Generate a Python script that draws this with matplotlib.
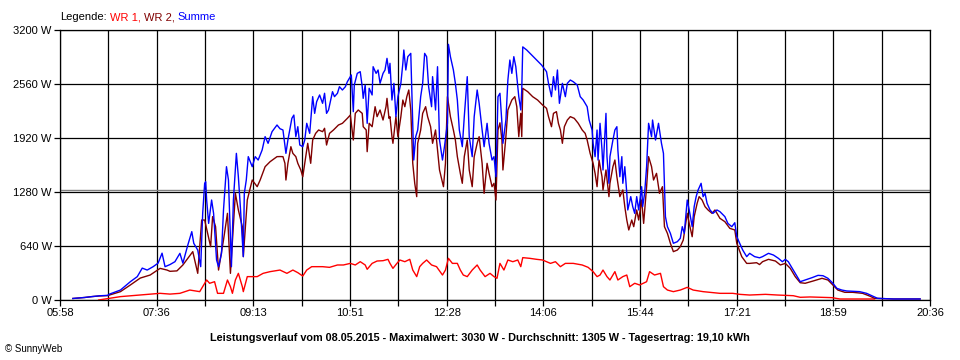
import matplotlib
matplotlib.use("Agg")
import matplotlib.pyplot as plt
import numpy as np

plt.rcParams['font.family'] = ['Liberation Sans', 'DejaVu Sans']

# time in minutes since midnight, power in W
summe_t = [371, 383, 390, 398, 406, 408, 419, 429, 436, 441, 446, 452, 457, 461, 464, 469, 474, 479, 482, 487,
           491, 493, 497, 500, 502, 504, 505, 506, 508, 511, 513, 516, 518, 521, 523, 526, 528, 531, 533, 536,
           538, 540, 543, 544, 546, 548, 552, 555, 558, 562, 565, 568, 572, 577, 580, 583, 586, 588, 592, 594,
           596, 598, 600, 603, 605, 607, 610, 613, 615, 617, 620, 623, 625, 627, 629, 633, 635, 638, 640, 643,
           646, 648, 650, 652, 654, 655, 658, 661, 663, 664, 666, 668, 670, 673, 674, 677, 679, 681, 684, 686,
           688, 690, 691, 693, 695, 697, 699, 702, 704, 705, 707, 709, 712, 714, 715, 717, 719, 722, 724, 726,
           728, 730, 733, 734, 737, 739, 741, 744, 746, 749, 750, 752, 755, 757, 759, 761, 764, 766, 769, 771,
           774, 776, 779, 781, 784, 786, 789, 791, 794, 796, 798, 800, 802, 804, 805, 808, 810, 812, 814, 816,
           818, 819, 821, 823, 824, 825, 829, 834, 839, 844, 849, 851, 854, 856, 858, 860, 862, 865, 868, 870,
           873, 876, 880, 883, 886, 890, 892, 895, 896, 898, 900, 901, 903, 905, 906, 909, 910, 912, 913, 916,
           918, 920, 921, 923, 925, 926, 928, 930, 931, 934, 936, 938, 940, 942, 945, 946, 948, 950, 952, 955,
           956, 959, 962, 965, 967, 969, 971, 974, 977, 981, 984, 986, 988, 991, 993, 996, 998, 1000, 1002, 1005,
           1007, 1009, 1011, 1014, 1017, 1021, 1024, 1029, 1032, 1036, 1039, 1041, 1044, 1047, 1051, 1054, 1059, 1064, 1067, 1073,
           1078, 1083, 1087, 1090, 1093, 1097, 1102, 1105, 1110, 1117, 1123, 1128, 1133, 1138, 1142, 1147, 1152, 1158, 1165, 1172,
           1178, 1183, 1199, 1226]
summe_w = [18, 30, 40, 50, 55, 70, 118, 217, 277, 378, 355, 395, 437, 555, 395, 420, 454, 553, 437, 652,
           810, 672, 592, 395, 1027, 1383, 1402, 1185, 908, 1185, 1027, 474, 395, 553, 1067, 1580, 1422, 395, 1185, 1738,
           1461, 1106, 514, 1264, 1422, 1699, 1580, 1699, 1659, 1778, 1936, 1857, 1995, 2074, 2030, 2015, 1738, 1896, 2153, 2192,
           1936, 2054, 1837, 1817, 1896, 2094, 1975, 2410, 2212, 2350, 2430, 2331, 2450, 2212, 2252, 2469, 2410, 2450, 2528, 2489,
           2528, 2587, 2627, 2667, 2232, 2548, 2686, 2706, 2528, 2390, 2548, 2094, 2509, 2430, 2765, 2686, 2726, 2568, 2686, 2726,
           2864, 2686, 2805, 2370, 2568, 2173, 2410, 2568, 2805, 2963, 2726, 2884, 2923, 2054, 1659, 1936, 2015, 2410, 2568, 2923,
           2884, 2528, 2291, 2647, 2252, 2765, 1896, 1659, 1817, 2094, 3030, 2884, 2726, 2568, 2370, 2015, 1817, 2173, 2647, 1936,
           1699, 2173, 2489, 2331, 2015, 1817, 2094, 1857, 1659, 1699, 1461, 2410, 2450, 2094, 1857, 2133, 2607, 2844, 2686, 2884,
           2765, 2647, 2410, 2252, 2489, 3000, 2963, 2904, 2844, 2785, 2706, 2568, 2410, 2647, 2489, 2726, 2331, 2568, 2410, 2568,
           2607, 2587, 2548, 2410, 2370, 2291, 2133, 2015, 1857, 1699, 2015, 1659, 2094, 1778, 1541, 2212, 1699, 1383, 1699, 1896,
           2015, 2054, 1778, 1461, 1699, 1383, 1580, 1264, 1067, 1225, 1106, 1027, 1225, 1067, 1343, 1106, 1264, 1580, 2094, 1936,
           2133, 1896, 2094, 1857, 1738, 988, 869, 790, 672, 691, 731, 869, 790, 1185, 1067, 869, 1106, 1225, 1304, 1383,
           1225, 1264, 1146, 1067, 1027, 1067, 1047, 988, 908, 869, 916, 750, 672, 592, 514, 553, 514, 500, 514, 553,
           533, 494, 454, 482, 454, 375, 277, 217, 237, 265, 292, 288, 257, 198, 138, 118, 107, 103, 99, 79,
           47, 20, 12, 12]

wr2_t = [371, 383, 390, 398, 406, 419, 429, 439, 449, 454, 459, 466, 469, 476, 482, 487, 492, 497, 501, 504,
         507, 510, 512, 515, 518, 523, 527, 530, 535, 538, 542, 543, 547, 552, 557, 560, 565, 570, 577, 580,
         583, 585, 586, 588, 591, 593, 596, 598, 601, 603, 606, 608, 611, 613, 616, 619, 623, 625, 627, 630,
         634, 639, 643, 648, 651, 654, 656, 659, 663, 664, 667, 668, 670, 673, 676, 678, 681, 684, 687, 688,
         690, 691, 693, 694, 697, 699, 702, 704, 706, 708, 710, 712, 714, 716, 718, 719, 722, 724, 727, 729,
         732, 734, 737, 739, 741, 745, 747, 749, 752, 755, 757, 759, 762, 764, 766, 769, 771, 774, 776, 779,
         781, 784, 786, 789, 791, 794, 796, 798, 800, 802, 804, 805, 808, 810, 814, 817, 819, 821, 823, 824,
         825, 830, 835, 840, 845, 849, 851, 854, 856, 859, 861, 863, 865, 867, 870, 873, 877, 881, 885, 888,
         890, 893, 896, 898, 900, 902, 905, 906, 909, 912, 913, 916, 918, 920, 923, 926, 928, 930, 932, 935,
         937, 940, 942, 945, 947, 950, 952, 955, 957, 960, 963, 966, 968, 971, 974, 977, 981, 984, 987, 991,
         993, 996, 998, 1001, 1003, 1006, 1009, 1012, 1016, 1019, 1024, 1029, 1034, 1039, 1041, 1046, 1051, 1054, 1061, 1064,
         1067, 1073, 1080, 1085, 1090, 1095, 1100, 1105, 1110, 1118, 1127, 1133, 1138, 1143, 1150, 1158, 1168, 1175, 1180, 1199,
         1226]
wr2_w = [18, 30, 40, 48, 52, 99, 178, 260, 296, 336, 375, 355, 340, 345, 415, 494, 573, 316, 948, 948,
         790, 632, 988, 869, 355, 711, 1027, 316, 1264, 1067, 869, 514, 1185, 1422, 1343, 1422, 1580, 1639, 1699, 1700,
         1699, 1620, 1422, 1620, 1817, 1738, 1699, 1620, 1541, 1461, 1699, 1857, 1620, 1896, 1975, 2015, 1995, 2035, 1837, 1975,
         2015, 2074, 2094, 2153, 2192, 1896, 2212, 2252, 2212, 2054, 2015, 1758, 2094, 2054, 2291, 2173, 2252, 2133, 2291, 2390,
         2153, 2173, 1936, 1857, 2173, 1936, 2173, 2370, 2291, 2410, 2489, 2252, 1620, 1383, 1225, 1857, 2015, 2212, 2291, 2173,
         2054, 1857, 2015, 1778, 1541, 1343, 1620, 2410, 2173, 2015, 1896, 1699, 1501, 1383, 1699, 1896, 1541, 1343, 1699, 1857,
         1936, 1620, 1264, 1620, 1501, 1343, 1383, 1185, 2015, 2100, 1896, 1541, 1936, 2252, 2370, 2410, 2291, 1936, 2212, 1936,
         2509, 2469, 2410, 2370, 2311, 2272, 2173, 2054, 2212, 2232, 2094, 2015, 1857, 2054, 2133, 2173, 2153, 2094, 2015, 1975,
         1896, 1738, 1620, 1501, 1343, 1659, 1461, 1304, 1541, 1225, 1383, 1580, 1659, 1461, 1225, 1304, 1106, 948, 830, 948,
         869, 1067, 948, 1185, 908, 1343, 1699, 1580, 1422, 1501, 1264, 1343, 869, 790, 672, 573, 592, 632, 711, 1027,
         908, 750, 988, 1146, 1225, 1185, 1106, 1067, 1027, 1067, 968, 928, 849, 830, 672, 514, 434, 434, 442, 420,
         454, 482, 462, 415, 434, 375, 277, 205, 198, 225, 257, 237, 178, 118, 91, 91, 79, 47, 20, 12,
         12]

wr1_t = [397, 408, 419, 429, 439, 449, 459, 469, 479, 489, 499, 502, 506, 509, 514, 517, 523, 527, 530, 532,
         535, 538, 542, 543, 547, 552, 557, 563, 570, 580, 587, 593, 598, 603, 607, 612, 617, 623, 630, 638,
         644, 651, 656, 661, 666, 668, 673, 678, 684, 689, 691, 694, 698, 701, 706, 711, 714, 718, 721, 724,
         728, 733, 738, 744, 747, 750, 754, 759, 762, 765, 769, 774, 779, 782, 787, 792, 796, 799, 802, 806,
         810, 815, 820, 823, 825, 832, 839, 845, 853, 858, 863, 868, 876, 885, 891, 896, 900, 903, 906, 910,
         913, 918, 921, 926, 930, 933, 938, 943, 950, 953, 958, 964, 967, 971, 977, 984, 991, 997, 1007, 1024,
         1037, 1044, 1054, 1070, 1082, 1098, 1105, 1115, 1137, 1145, 1180]
wr1_w = [0, 20, 40, 50, 59, 69, 79, 70, 79, 118, 99, 158, 237, 198, 217, 79, 79, 237, 158, 79,
         237, 316, 158, 99, 277, 277, 277, 316, 336, 355, 316, 355, 324, 284, 355, 395, 395, 395, 387, 415,
         415, 434, 415, 454, 415, 364, 434, 462, 466, 482, 434, 375, 434, 474, 454, 482, 355, 277, 395, 434,
         474, 415, 395, 296, 355, 494, 434, 434, 355, 296, 277, 355, 415, 355, 277, 316, 277, 257, 434, 355,
         474, 454, 474, 395, 502, 494, 482, 474, 434, 454, 395, 434, 434, 415, 387, 336, 277, 296, 355, 277,
         237, 336, 237, 277, 296, 158, 198, 178, 217, 336, 296, 316, 158, 118, 99, 118, 150, 118, 99, 79,
         79, 67, 59, 67, 59, 51, 32, 36, 28, 12, 12]

durchschnitt = 1305
x_ticks = ["05:58", "07:36", "09:13", "10:51", "12:28", "14:06", "15:44", "17:21", "18:59", "20:36"]
y_ticks = [0, 640, 1280, 1920, 2560, 3200]
t_start, t_end = 358, 1236

fig = plt.figure(figsize=(9.6, 3.6), dpi=100)
ax = fig.add_axes([60/960, 60/360, 870/960, 270/360])

ax.axhline(durchschnitt, color='#808080', lw=1.0, zorder=1)
ax.plot(wr1_t, wr1_w, color='#ff0000', lw=1.0, zorder=3)
ax.plot(wr2_t, wr2_w, color='#800000', lw=1.0, zorder=4)
ax.plot(summe_t, summe_w, color='#0000ff', lw=1.0, zorder=5)

ax.set_xlim(t_start, t_end)
ax.set_ylim(0, 3200)
grid_x = np.linspace(t_start, t_end, 19)
ax.set_xticks(grid_x)
labels = []
for i in range(19):
    labels.append(x_ticks[i // 2] if i % 2 == 0 else "")
ax.set_xticklabels(labels)
ax.set_yticks(y_ticks)
ax.set_yticklabels([f"{v} W" for v in y_ticks])
ax.grid(True, color='black', lw=0.9, zorder=0)
ax.set_axisbelow(True)
ax.tick_params(axis='both', length=4, width=0.9, colors='black', labelsize=8, pad=2)
for s in ax.spines.values():
    s.set_linewidth(0.9)
    s.set_color('black')

fig.text(0.5, 1 - 338/360, "Leistungsverlauf vom 08.05.2015 - Maximalwert: 3030 W - Durchschnitt: 1305 W - Tagesertrag: 19,10 kWh",
         ha='center', va='center', fontsize=7.8, fontweight='bold')
fig.text(5/960, 1 - 349/360, "© SunnyWeb", ha='left', va='center', fontsize=7)

# legend line at the top, coloured words one after the other
fig.canvas.draw()
r = fig.canvas.get_renderer()
parts = [("Legende:", 'black'), ("WR 1,", '#ff0000'), ("WR 2,", '#800000'), ("Summe", '#0000ff')]
xpos = 60
for txt, col in parts:
    t = fig.text(xpos/960, 1 - 17/360, txt, color=col, fontsize=8, ha='left', va='center')
    bb = t.get_window_extent(renderer=r)
    xpos = bb.x1 + 3

fig.savefig("out.png", dpi=100)
